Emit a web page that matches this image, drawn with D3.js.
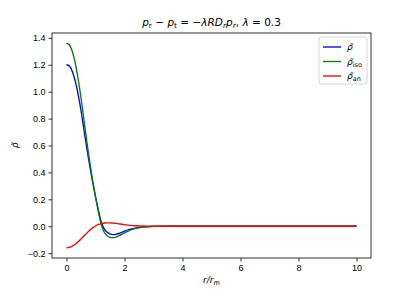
<!DOCTYPE html>
<meta charset="utf-8">
<style>
body { margin: 0; background: #fff; }
svg { font-family: "DejaVu Sans", sans-serif; }
.tick text { font-size: 9px; fill: #000; }
.tick line { stroke: #000; stroke-width: 0.8; }
.domain { display: none; }
</style>
<svg width="412" height="291"></svg>
<script src="https://d3js.org/d3.v7.min.js"></script>
<script>

var rVals = [0, 0.1, 0.2, 0.3, 0.4, 0.5, 0.6, 0.7, 0.8, 0.9, 1.0, 1.1, 1.2, 1.3, 1.4, 1.5, 1.6, 1.7, 1.8, 1.9, 2.0, 2.2, 2.4, 2.6, 2.8, 3.0, 3.5, 4, 5, 6, 7, 8, 9, 10];

var rhoTotal = [1.20, 1.19, 1.15, 1.08, 0.98, 0.86, 0.72, 0.58, 0.45, 0.33, 0.22, 0.12, 0.03, -0.02, -0.045, -0.057, -0.062, -0.06, -0.054, -0.046, -0.037, -0.022, -0.012, -0.006, -0.003, -0.001, 0, 0, 0, 0, 0, 0, 0, 0];

var rhoIso = [1.36, 1.347, 1.298, 1.214, 1.096, 0.955, 0.793, 0.631, 0.48, 0.342, 0.218, 0.107, 0.01, -0.044, -0.07, -0.082, -0.085, -0.081, -0.072, -0.061, -0.049, -0.029, -0.016, -0.008, -0.004, -0.0015, 0, 0, 0, 0, 0, 0, 0, 0];

var rhoAn = [-0.16, -0.157, -0.148, -0.134, -0.116, -0.095, -0.073, -0.051, -0.03, -0.012, 0.002, 0.013, 0.02, 0.024, 0.025, 0.025, 0.023, 0.021, 0.018, 0.015, 0.012, 0.007, 0.004, 0.002, 0.001, 0.0005, 0, 0, 0, 0, 0, 0, 0, 0];

var xTicks = [0, 2, 4, 6, 8, 10];
var yTicks = [-0.2, 0.0, 0.2, 0.4, 0.6, 0.8, 1.0, 1.2, 1.4];

var series = [
    { sub: "", color: "#0000ff", values: rhoTotal },
    { sub: "iso", color: "#008000", values: rhoIso },
    { sub: "an", color: "#ff0000", values: rhoAn }
];

var svg = d3.select("svg");
var mLeft = 52, mRight = 371, mTop = 33, mBottom = 258;

var allVals = rhoTotal.concat(rhoIso, rhoAn);
var yMin = d3.min(allVals), yMax = d3.max(allVals);
var yPad = (yMax - yMin) * 0.05;

var x = d3.scaleLinear().domain([-0.5, 10.5]).range([mLeft, mRight]);
var y = d3.scaleLinear().domain([yMin - yPad, yMax + yPad]).range([mBottom, mTop]);

svg.append("g")
    .attr("transform", "translate(0," + mBottom + ")")
    .call(d3.axisBottom(x).tickValues(xTicks).tickSize(3.5).tickPadding(3).tickFormat(d3.format("d")));

svg.append("g")
    .attr("transform", "translate(" + mLeft + ",0)")
    .call(d3.axisLeft(y).tickValues(yTicks).tickSize(3.5).tickPadding(3)
        .tickFormat(function (d) { return d3.format(".1f")(d).replace("-", "\u2212"); }));

var line = d3.line()
    .x(function (d) { return x(d[0]); })
    .y(function (d) { return y(d[1]); })
    .curve(d3.curveMonotoneX);

series.forEach(function (s) {
    svg.append("path")
        .datum(rVals.map(function (r, i) { return [r, s.values[i]]; }))
        .attr("fill", "none")
        .attr("stroke", s.color)
        .attr("stroke-width", 1.35)
        .attr("d", line);
});

// frame
svg.append("rect")
    .attr("x", mLeft).attr("y", mTop)
    .attr("width", mRight - mLeft).attr("height", mBottom - mTop)
    .attr("fill", "none").attr("stroke", "#000").attr("stroke-width", 0.8);

// title
var title = svg.append("text")
    .attr("x", (mLeft + mRight) / 2).attr("y", 26)
    .attr("text-anchor", "middle")
    .attr("font-size", "10.5px");
title.append("tspan").attr("font-style", "italic").text("p");
title.append("tspan").attr("font-size", "7.5px").attr("dy", 2).text("r");
title.append("tspan").attr("dy", -2).text(" \u2212 ");
title.append("tspan").attr("font-style", "italic").text("p");
title.append("tspan").attr("font-size", "7.5px").attr("dy", 2).text("t");
title.append("tspan").attr("dy", -2).text(" = \u2212");
title.append("tspan").attr("font-style", "italic").text("\u03bbRD");
title.append("tspan").attr("font-size", "7.5px").attr("font-style", "italic").attr("dy", 2).text("r");
title.append("tspan").attr("font-style", "italic").attr("dy", -2).text("p");
title.append("tspan").attr("font-size", "7.5px").attr("font-style", "italic").attr("dy", 2).text("r");
title.append("tspan").attr("dy", -2).text(", ");
title.append("tspan").attr("font-style", "italic").text("\u03bb");
title.append("tspan").text(" = 0.3");

// axis labels
var xl = svg.append("text")
    .attr("x", (mLeft + mRight) / 2).attr("y", 283)
    .attr("text-anchor", "middle").attr("font-size", "9px");
xl.append("tspan").attr("font-style", "italic").text("r/r");
xl.append("tspan").attr("font-size", "6.5px").attr("dy", 2).text("m");

svg.append("text")
    .attr("transform", "translate(18," + ((mTop + mBottom) / 2) + ") rotate(-90)")
    .attr("text-anchor", "middle").attr("font-size", "9px")
    .attr("font-style", "italic")
    .text("\u03c1\u0303");

// legend
var lg = svg.append("g");
lg.append("rect")
    .attr("x", 319).attr("y", 37).attr("width", 48).attr("height", 47)
    .attr("rx", 2).attr("fill", "#fff").attr("fill-opacity", 0.8)
    .attr("stroke", "#ccc").attr("stroke-width", 0.8);

series.forEach(function (s, i) {
    var yy = 47 + i * 14.5;
    lg.append("line")
        .attr("x1", 323).attr("x2", 341).attr("y1", yy).attr("y2", yy)
        .attr("stroke", s.color).attr("stroke-width", 1.35);
    var t = lg.append("text")
        .attr("x", 347).attr("y", yy + 3).attr("font-size", "9px");
    t.append("tspan").attr("font-style", "italic").text("\u03c1\u0303");
    if (s.sub) t.append("tspan").attr("font-size", "6.5px").attr("dy", 2).text(s.sub);
});

</script>
